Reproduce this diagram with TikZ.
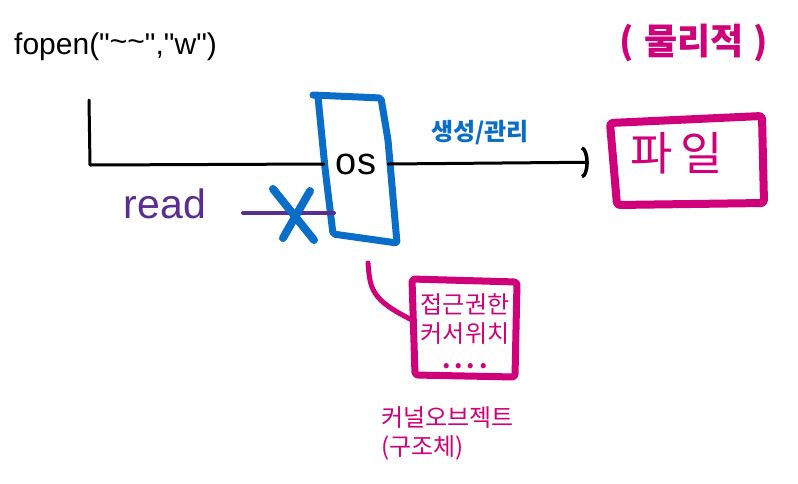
\documentclass[tikz,border=0pt]{standalone}
\usepackage{fontspec}
\setmainfont{Liberation Sans}[Ligatures=TeXOff]
\newfontfamily\kr{Noto Sans CJK KR}
\usetikzlibrary{arrows.meta,positioning}

\definecolor{osblue}{RGB}{10,110,200}
\definecolor{filepink}{RGB}{208,0,122}
\definecolor{readpurple}{RGB}{90,45,145}

\begin{document}
\begin{tikzpicture}[x=1pt, y=-1pt,
  ink/.style={line width=3pt, black, line cap=round, line join=round},
  osline/.style={line width=7pt, osblue, line cap=round, line join=round},
  pinkline/.style={line width=7pt, filepink, line cap=round, line join=round},
  readline/.style={line width=4pt, readpurple, line cap=round},
  hand/.style={inner sep=0pt, font=\fontsize{30}{34}\selectfont},
  label/.style={inner sep=0pt, font=\kr\fontsize{24}{29}\selectfont},
  arrow/.style={ink, -{Arc Barb[length=7pt, width=32pt, line width=3.5pt]}}
]
\useasboundingbox (0,0) rectangle (798,483);

% call on the left
\node[hand, anchor=west] (call) at (14,47) {fopen("\raisebox{3pt}{\symbol{126}\symbol{126}}","w")};
\coordinate (start) at (89,100);

% os box
\node[minimum width=64pt, minimum height=30pt, inner sep=0pt,
      font=\fontsize{38}{38}\selectfont] (os) at (356,164) {os};
\draw[osline, rounded corners=2pt] (313,95) -- (381,98) -- (388,140) -- (397,243) -- (333,234) -- (325,168) -- (318,97);

% physical file
\node[label, font=\kr\bfseries\fontsize{36}{36}\selectfont, text=filepink] (phys) at (694,43) {(\;물리적\;)};
\node[minimum width=148pt, minimum height=84pt, inner sep=0pt] (file) at (689,162) {};
\draw[pinkline, line width=8pt, rounded corners=3pt] (610,123) -- (762,116) -- (764,203) -- (617,205) -- cycle;
\node[label, font=\kr\fontsize{46}{46}\selectfont, text=filepink] (filetxt) at (677,153) {파\,일};

% flow
\draw[ink] (start) -- (90,165) -- (os.west);
\draw[arrow, shorten >=26pt] (os.east) -- (file.west);
\node[label, text=osblue, font=\kr\bfseries\fontsize{24}{24}\selectfont] (manage) at (480,133) {생성/관리};

% read is blocked
\node[hand, font=\fontsize{41}{41}\selectfont, text=readpurple] (read) at (165,204) {read};
\coordinate (rdstart) at (243,213);
\coordinate (rdend) at (334,213);
\draw[readline] (rdstart) -- (rdend);
\node[minimum size=46pt, inner sep=0pt] (cross) at (293,214) {};
\draw[osline, line width=8pt] (273,189) -- (314,240);
\draw[osline, line width=8pt] (310,191) -- (283,238);

% kernel object
\node[label, align=center, text=filepink, minimum width=104pt, minimum height=98pt]
  (kobj) at (465,331) {접근권한\\커서위치\\[-3pt]\textbf{.\,.\,.\,.}};
\draw[pinkline, rounded corners=3pt] (412,279) -- (517,282) -- (515,377) -- (415,375) -- cycle;
\coordinate (tail) at (368,263);
\draw[pinkline, line width=5pt] (tail) .. controls (370,290) and (372,300) .. (412,320);
\node[label, align=left, anchor=north west, text=filepink] (kname) at (381,406) {커널오브젝트\\(구조체)};
\end{tikzpicture}
\end{document}
